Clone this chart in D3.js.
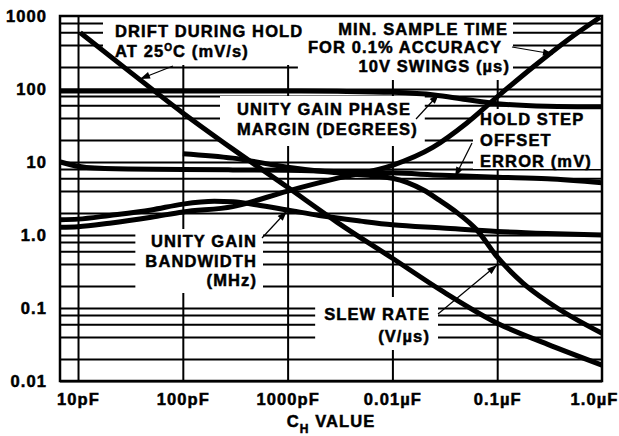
<!DOCTYPE html>
<html><head><meta charset="utf-8">
<script src="https://cdn.jsdelivr.net/npm/d3@7"></script>
<style>
body{margin:0;background:#fff}
svg text{font-family:"Liberation Sans",Arial,Helvetica,sans-serif;font-weight:bold;font-size:16.5px;letter-spacing:1.1px;fill:#000;stroke:#000;stroke-width:0.5px}
</style></head><body>
<svg id="c" width="619" height="436"></svg>
<script>
// ---------------- data ----------------
const xTickValues = [10, 100, 1000, 1e4, 1e5, 1e6];            // pF
const xTickLabels = ["10pF", "100pF", "1000pF", "0.01µF", "0.1µF", "1.0µF"];
const yTickValues = [1000, 100, 10, 1, 0.1, 0.01];
const yTickLabels = ["1000", "100", "10", "1.0", "0.1", "0.01"];
const yDecades = [0.01, 0.1, 1, 10, 100];
const yMinorMult = [2, 4, 6, 8];

// Drift during hold at 25°C (mV/s)
const driftC = [10.5, 30, 100, 300, 1000, 3000, 1e4, 3e4, 1e5, 3e5, 1e6];
const driftV = [590, 180, 47, 15, 4.5, 1.48, 0.48, 0.17, 0.062, 0.032, 0.0165];
// Min sample time for 0.1% accuracy, 10V swings (µs)
const sampleC = [6.8, 10, 20, 50, 100, 300, 1000, 3000, 1e4, 2.45e4, 5.1e4, 1e5, 2.2e5, 4.7e5, 9.6e5];
const sampleV = [1.28, 1.3, 1.45, 1.75, 2.07, 2.45, 4.0, 6.0, 9.0, 16, 34, 78, 200, 470, 960];
// Unity gain phase margin (degrees)
const phaseC = [6.8, 100, 1000, 3000, 1e4, 2.5e4, 5e4, 1e5, 3e5, 1e6];
const phaseV = [94, 94, 94, 93, 90, 83, 72, 63, 58, 57];
// Hold step offset error (mV)
const offsetC = [6.8, 12, 30, 100, 300, 1000, 3000, 1e4, 3e4, 1e5, 3e5, 1e6];
const offsetV = [10, 8.4, 8.0, 7.9, 7.8, 7.7, 7.4, 7.1, 6.6, 6.2, 5.9, 5.2];
// Unity gain bandwidth (MHz)
const bwC = [6.8, 10, 20, 50, 100, 200, 300, 500, 1000, 2000, 5000, 1e4, 3e4, 1e5, 3e5, 1e6];
const bwV = [1.62, 1.65, 1.85, 2.2, 2.65, 2.9, 2.85, 2.6, 2.2, 1.85, 1.55, 1.38, 1.25, 1.12, 1.05, 1.0];
// Slew rate (V/µs)
const slewC = [100, 300, 1000, 3000, 1e4, 2e4, 2.8e4, 4e4, 6.4e4, 1e5, 1.76e5, 3.16e5, 1e6];
const slewV = [13, 11.3, 8.5, 7.1, 6.0, 4.1, 3.0, 2.1, 1.17, 0.5, 0.22, 0.117, 0.045];

const seriesList = [
  [driftC, driftV], [sampleC, sampleV], [phaseC, phaseV],
  [offsetC, offsetV], [bwC, bwV], [slewC, slewV]
];

// ---------------- layout ----------------
const L = 60, R = 602, T = 16, B = 381;
const svg = d3.select("#c");
const x = d3.scaleLog().domain([6.73, 1e6]).range([L, R]);
const y = d3.scaleLog().domain([0.01, 1000]).range([B, T]);

const gGrid = svg.append("g");
const gMask = svg.append("g");
const gCurves = svg.append("g");
const gText = svg.append("g");
const gArrows = svg.append("g");

// horizontal grid
const hGrid = [];
yDecades.forEach(d => { hGrid.push(d); yMinorMult.forEach(m => hGrid.push(d * m)); });
gGrid.append("g").attr("transform", `translate(${L},0)`)
  .call(d3.axisLeft(y).tickValues(hGrid).tickSize(-(R - L)).tickFormat(""))
  .call(g => g.select(".domain").remove())
  .selectAll("line").attr("stroke", "#000").attr("stroke-width", 2);
// vertical grid
gGrid.append("g").attr("transform", `translate(0,${B})`)
  .call(d3.axisBottom(x).tickValues(xTickValues.slice(0, -1)).tickSize(-(B - T)).tickFormat(""))
  .call(g => g.select(".domain").remove())
  .selectAll("line").attr("stroke", "#000").attr("stroke-width", 2);

// tick labels
const yAx = svg.append("g").attr("transform", `translate(${L},0)`)
  .call(d3.axisLeft(y).tickValues(yTickValues).tickSize(0).tickPadding(13)
    .tickFormat((d, i) => yTickLabels[i]));
yAx.select(".domain").remove();
const xAx = svg.append("g").attr("transform", `translate(0,${B})`)
  .call(d3.axisBottom(x).tickValues(xTickValues).tickSize(0).tickPadding(12)
    .tickFormat((d, i) => xTickLabels[i]));
xAx.select(".domain").remove();
xAx.selectAll(".tick").filter((d, i) => i === xTickValues.length - 1)
  .select("text").attr("text-anchor", "end").attr("x", 16);

// axis title
const tt = svg.append("text").attr("x", 331).attr("y", 427).attr("text-anchor", "middle");
tt.append("tspan").text("C");
tt.append("tspan").style("font-size", "12px").attr("dy", 6).text("H");
tt.append("tspan").attr("dy", -6).text(" VALUE");

// curves
const line = d3.line().x(d => x(d[0])).y(d => y(d[1])).curve(d3.curveMonotoneX);
seriesList.forEach(([cs, vs]) => {
  gCurves.append("path").datum(cs.map((c, i) => [c, vs[i]]))
    .attr("d", line).attr("fill", "none").attr("stroke", "#000")
    .attr("stroke-width", 5).attr("stroke-linejoin", "round");
});

// annotation labels with white masks [padL, padR, padT, padB]
const labels = [
  { anchor: "start", x: 115, lines: [["DRIFT DURING HOLD", 37], ["AT 25|O|C (mV/s)", 57]], pad: [12, 12, 20, 8] },
  { anchor: "end", x: 508, lines: [["MIN. SAMPLE TIME", 35], ["FOR 0.1% ACCURACY", 53], ["10V SWINGS (µs)", 72]], pad: [10, 3, 12, 8], xs: [508, 502, 510] },
  { anchor: "start", x: 237, lines: [["UNITY GAIN PHASE", 115], ["MARGIN (DEGREES)", 135]], pad: [17, 7, 8, 11] },
  { anchor: "start", x: 480, lines: [["HOLD STEP", 125], ["OFFSET", 146], ["ERROR (mV)", 167]], pad: [7, 20, 5, 2] },
  { anchor: "end", x: 257, lines: [["UNITY GAIN", 247], ["BANDWIDTH", 267], ["(MHz)", 286]], pad: [10, 6, 7, 7] },
  { anchor: "end", x: 430, lines: [["SLEW RATE", 320], ["(V/µs)", 342]], pad: [9, 8, 12, 8] }
];
labels.forEach(lb => {
  const g = gText.append("g");
  lb.lines.forEach(([s, yy], i) => {
    const t = g.append("text").attr("x", lb.xs ? lb.xs[i] : lb.x).attr("y", yy).attr("text-anchor", lb.anchor);
    if (s.includes("|")) {
      const parts = s.split("|");
      t.append("tspan").text(parts[0]);
      t.append("tspan").style("font-size", "10px").attr("dy", -6).text(parts[1]);
      t.append("tspan").attr("dy", 6).text(parts[2]);
    } else t.text(s);
  });
  const bb = g.node().getBBox();
  const [pl, pr, pt, pb] = lb.pad;
  const x0 = Math.max(L + 1, bb.x - pl), x1 = Math.min(R - 1, bb.x + bb.width + pr);
  const y0 = Math.max(T + 1, bb.y - pt + 4), y1 = bb.y + bb.height + pb - 3;
  gMask.append("rect").attr("x", x0).attr("y", y0).attr("width", x1 - x0).attr("height", y1 - y0).attr("fill", "#fff");
});

// arrows
svg.append("defs").append("marker").attr("id", "ah").attr("viewBox", "0 0 10 7")
  .attr("refX", 10).attr("refY", 3.5).attr("markerWidth", 11).attr("markerHeight", 7)
  .attr("markerUnits", "userSpaceOnUse").attr("orient", "auto")
  .append("path").attr("d", "M0,0L10,3.5L0,7z").attr("fill", "#000");
const arrows = [
  [173, 66, 140, 79], [512, 47, 553, 54], [416, 119, 439, 94],
  [472, 143, 455, 177], [262, 238, 287, 211], [438, 314, 497, 265]
];
arrows.forEach(a => {
  gArrows.append("line").attr("x1", a[0]).attr("y1", a[1]).attr("x2", a[2]).attr("y2", a[3])
    .attr("stroke", "#000").attr("stroke-width", 1.2).attr("marker-end", "url(#ah)");
});

// frame
svg.append("rect").attr("x", L).attr("y", T).attr("width", R - L).attr("height", B - T)
  .attr("fill", "none").attr("stroke", "#000").attr("stroke-width", 2.5);
</script></body></html>
